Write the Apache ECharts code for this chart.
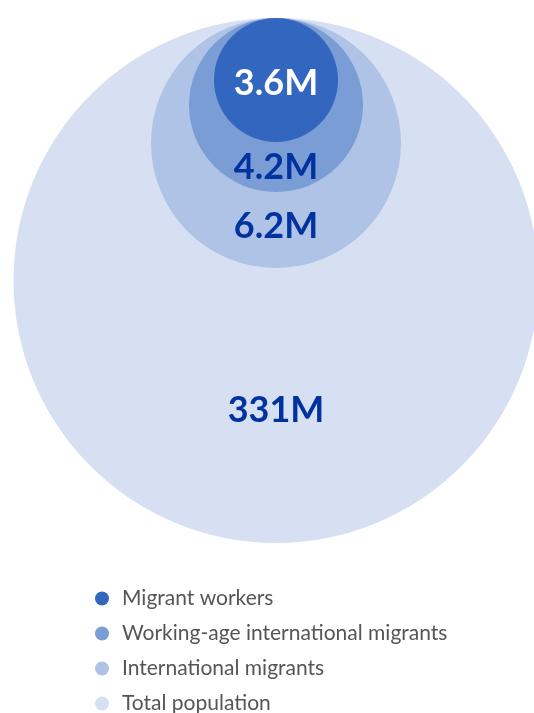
<!DOCTYPE html>
<html>
<head>
<meta charset="utf-8">
<script src="https://cdn.jsdelivr.net/npm/echarts@6/dist/echarts.min.js"></script>
<style>
  html, body { margin: 0; padding: 0; background: #ffffff; }
  #chart { width: 534px; height: 713px; }
</style>
</head>
<body>
<div id="chart"></div>
<script>
// Population groups, from the largest (drawn first, at the back) to the smallest
const groups = ['Total population', 'International migrants', 'Working-age international migrants', 'Migrant workers'];
const populationMillions = [331, 6.2, 4.2, 3.6];
const legendOrder = ['Migrant workers', 'Working-age international migrants', 'International migrants', 'Total population'];

// Styling per group: circle radius (px), fill, label colour and label drop below centre
const styles = {
  'Total population':                   { r: 262.5, color: '#d7e0f2', label: '#0033a0', dy: 130 },
  'International migrants':             { r: 125,   color: '#afc3e6', label: '#0033a0', dy: 83 },
  'Working-age international migrants': { r: 87,    color: '#7b9dd6', label: '#0033a0', dy: 62 },
  'Migrant workers':                    { r: 62,    color: '#3366bf', label: '#ffffff', dy: 3 }
};

const W = 534, H = 713;
const anchorX = 276;   // shared horizontal centre
const anchorTop = 18;  // all circles touch this top line

const chart = echarts.init(document.getElementById('chart'), null, { renderer: 'canvas' });

const series = groups.map((name, i) => {
  const s = styles[name];
  return {
    name: name,
    type: 'scatter',
    symbol: 'circle',
    symbolSize: s.r * 2,
    silent: true,
    itemStyle: { color: s.color, opacity: 1 },
    emphasis: { disabled: true },
    label: {
      show: true,
      position: 'inside',
      offset: [0, s.dy],
      formatter: p => p.value[2] + 'M',
      color: s.label,
      fontFamily: 'Lato',
      fontWeight: 'bold',
      fontSize: 36
    },
    data: [[anchorX, anchorTop + s.r, populationMillions[i]]],
    z: 2 + i
  };
});

chart.setOption({
  animation: false,
  backgroundColor: '#ffffff',
  grid: { left: 0, right: 0, top: 0, bottom: 0 },
  xAxis: { type: 'value', min: 0, max: W, show: false },
  yAxis: { type: 'value', min: 0, max: H, inverse: true, show: false },
  legend: {
    data: legendOrder,
    orient: 'vertical',
    left: 95,
    top: 588,
    height: 300,
    padding: 0,
    icon: 'circle',
    itemWidth: 30,
    itemHeight: 14,
    itemGap: 14,
    selectedMode: false,
    textStyle: { fontFamily: 'Lato', fontSize: 21, color: '#555555' }
  },
  series: series
});
</script>
</body>
</html>
